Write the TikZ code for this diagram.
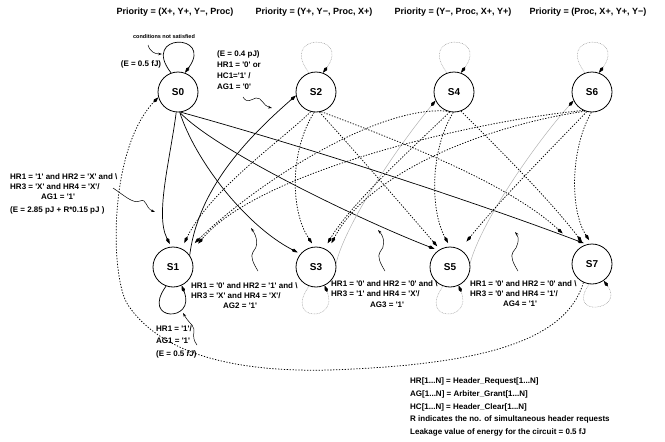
\documentclass[tikz,border=0pt]{standalone}
\usepackage{fontspec}
\setmainfont{Liberation Sans}
\usetikzlibrary{arrows.meta}
\newcommand{\q}{\textquotesingle}
\newcommand{\bs}{\textbackslash}
\begin{document}
\begin{tikzpicture}[x=1pt,y=-1pt,
  state/.style={circle,draw,line width=0.8pt,minimum size=40pt,inner sep=0pt,font=\bfseries\fontsize{10}{12}\selectfont},
  kitetip/.style={-{Kite[length=7pt,width=3.4pt,inset=2.4pt,color=black]}},
  sol/.style={line width=0.7pt,kitetip},
  dot/.style={line width=0.75pt,dash pattern=on 1.3pt off 1.5pt,kitetip},
  gdot/.style={draw=gray!70,line width=0.5pt,dash pattern=on 0.8pt off 0.8pt,kitetip},
  gline/.style={draw=gray!60,line width=0.5pt,kitetip},
  lab/.style={font=\bfseries\fontsize{8}{9}\selectfont,inner sep=0pt,anchor=base west},
  labc/.style={lab,anchor=base},
  pri/.style={font=\bfseries\fontsize{9}{10}\selectfont,inner sep=0pt},
  squiga/.style={line width=0.5pt,-{Stealth[length=4pt,width=2.6pt]}},
  bigdot/.style={line width=0.75pt,dash pattern=on 1.3pt off 1.6pt,-{Kite[length=7pt,width=3.4pt,inset=2.4pt]}},
]
\useasboundingbox (0,0) rectangle (665,442);

% states
\node[state] (S0) at (178,92) {S0};
\node[state] (S2) at (316,92) {S2};
\node[state] (S4) at (454,92) {S4};
\node[state] (S6) at (592,92) {S6};
\node[state] (S1) at (173,267) {S1};
\node[state] (S3) at (316,267) {S3};
\node[state] (S5) at (450,267) {S5};
\node[state] (S7) at (592,264) {S7};

% priorities
\node[pri] (P0) at (175,12) {Priority = (X+, Y+, Y−, Proc)};
\node[pri] (P2) at (314,12) {Priority = (Y+, Y−, Proc, X+)};
\node[pri] (P4) at (453,12) {Priority = (Y−, Proc, X+, Y+)};
\node[pri] (P6) at (588,12) {Priority = (Proc, X+, Y+, Y−)};

% self loops
\draw[sol] (S0.110) .. controls +(-31,-40) and +(29,-40) .. (S0.70);
\draw[gdot] (S2.110) .. controls +(-31,-40) and +(29,-40) .. (S2.70);
\draw[gdot] (S4.110) .. controls +(-31,-40) and +(29,-40) .. (S4.70);
\draw[gdot] (S6.110) .. controls +(-31,-40) and +(29,-40) .. (S6.70);
\draw[sol] (S1.250) .. controls +(-26,36) and +(15,37) .. (S1.295);
\draw[gdot] (S3.250) .. controls +(-26,36) and +(15,37) .. (S3.295);
\draw[gdot] (S5.250) .. controls +(-26,36) and +(15,37) .. (S5.295);
\draw[gdot] (S7.262) .. controls +(-24,34) and +(22,30) .. (S7.305);

% solid transitions from S0
\draw[sol,shorten >=3pt] (S0.265) .. controls (170,160) and (155,215) .. (S1.95);
\draw[sol,shorten >=3pt] (S0.275) .. controls (195,160) and (245,225) .. (S3.140);
\draw[sol,shorten >=4pt] (S0.275) .. controls (215,150) and (360,220) .. (S5.125);
\draw[sol,shorten >=3pt] (S0.278) .. controls (300,145) and (470,200) .. (S7.105);

% odd -> even
\draw[sol] (S1.35) .. controls (198,190) and (245,140) .. (S2.190);
\draw[gline] (S3.10) .. controls (345,225) and (395,150) .. (S4.205);
\draw[gline] (S5.10) .. controls (480,225) and (530,150) .. (S6.205);

% dotted from S2
\draw[dot,shorten >=6pt] (S2.255) .. controls (282,140) and (210,190) .. (S1.65);
\draw[dot,shorten >=4pt] (S2.265) .. controls (290,150) and (290,210) .. (S3.95);
\draw[dot,shorten >=4pt] (S2.280) .. controls (360,157) and (400,203) .. (S5.120);
\draw[dot,shorten >=22pt] (S2.285) .. controls (410,145) and (510,185) .. (S7.130);

% dotted from S4
\draw[dot,shorten >=12pt] (S4.250) .. controls (380,105) and (260,180) .. (S1.50);
\draw[dot,shorten >=6pt] (S4.258) .. controls (410,150) and (350,205) .. (S3.65);
\draw[dot,shorten >=4pt] (S4.268) .. controls (430,150) and (430,210) .. (S5.90);
\draw[dot,shorten >=4pt] (S4.290) .. controls (500,150) and (550,200) .. (S7.112);

% dotted from S6
\draw[dot,shorten >=14pt] (S6.245) .. controls (480,120) and (260,170) .. (S1.38);
\draw[dot,shorten >=8pt] (S6.250) .. controls (490,125) and (370,170) .. (S3.55);
\draw[dot,shorten >=10pt] (S6.255) .. controls (550,150) and (500,200) .. (S5.60);
\draw[dot,shorten >=4pt] (S6.268) .. controls (570,150) and (570,210) .. (S7.92);

% big return S7 -> S0
\draw[bigdot] (S7.245) .. controls (565,345) and (470,365) .. (330,370)
  .. controls (250,372) and (165,360) .. (128,305)
  .. controls (110,278) and (108,150) .. (S0.195);

% labels
\node[font=\bfseries\fontsize{5.5}{6}\selectfont,inner sep=0pt,anchor=base] (cns) at (164,38) {conditions not satisfied};
\node[labc] (e0) at (141,66) {(E = 0.5 fJ)};
\node[lab] (t1a) at (217,56) {(E = 0.4 pJ)};
\node[lab] (t1b) at (217,67) {HR1 = \q0\q{} or};
\node[lab] (t1c) at (217,78) {HC1=\q1\q{} /};
\node[lab] (t1d) at (217,89) {AG1 = \q0\q};

\node[lab] (a1) at (10,179) {HR1 = \q1\q{} and HR2 = \q X\q{} and \bs};
\node[lab] (a2) at (10,189) {HR3 = \q X\q{} and HR4 = \q X\q/};
\node[lab] (a3) at (41,199) {AG1 = \q1\q};
\node[lab] (a4) at (10,212) {(E = 2.85 pJ + R*0.15 pJ )};

\node[lab] (b1) at (191,288) {HR1 = \q0\q{} and HR2 = \q1\q{} and \bs};
\node[lab] (b2) at (191,298) {HR3 = \q X\q{} and HR4 = \q X\q/};
\node[lab] (b3) at (223,308) {AG2 = \q1\q};

\node[lab] (c1) at (331,286) {HR1 = \q0\q{} and HR2 = \q0\q{} and \bs};
\node[lab] (c2) at (331,296) {HR3 = \q1\q{} and HR4 = \q X\q/};
\node[lab] (c3) at (370,307) {AG3 = \q1\q};

\node[lab] (d1) at (470,286) {HR1 = \q0\q{} and HR2 = \q0\q{} and \bs};
\node[lab] (d2) at (470,296) {HR3 = \q0\q{} and HR4 = \q1\q/};
\node[lab] (d3) at (503,306) {AG4 = \q1\q};

\node[lab] (f1) at (156,331) {HR1 = \q1\q/};
\node[lab] (f2) at (156,343) {AG1 = \q1\q};
\node[lab] (f3) at (156,356) {(E = 0.5 \textit{fJ})};

\node[lab] (g1) at (410,383) {HR[1...N] = Header\_Request[1...N]};
\node[lab] (g2) at (410,396) {AG[1...N] = Arbiter\_Grant[1...N]};
\node[lab] (g3) at (410,409) {HC[1...N] = Header\_Clear[1...N]};
\node[lab] (g4) at (410,421) {R indicates the no. of simultaneous header requests};
\node[lab] (g5) at (410,434) {Leakage value of energy for the circuit = 0.5 fJ};

% squiggles
\coordinate (q1s) at (148,45);
\coordinate (q1e) at (162,54);
\draw[squiga] (q1s) .. controls (150,52) and (155,54) .. (q1e);
\coordinate (q2s) at (243,97);
\coordinate (q2e) at (272,108);
\draw[squiga] (q2s) .. controls (247,104) and (252,99) .. (256,98) .. controls (262,97) and (263,106) .. (q2e);
\coordinate (q3s) at (113,188);
\coordinate (q3e) at (155,212);
\draw[squiga] (q3s) .. controls (125,196) and (133,204) .. (140,201) .. controls (147,198) and (145,208) .. (q3e);
\coordinate (q4s) at (258,271);
\coordinate (q4e) at (251,228);
\draw[squiga] (q4s) .. controls (253,263) and (250,256) .. (253,252) .. controls (258,247) and (258,238) .. (q4e);
\coordinate (q5s) at (385,271);
\coordinate (q5e) at (378,230);
\draw[squiga] (q5s) .. controls (380,263) and (377,256) .. (380,252) .. controls (385,247) and (385,238) .. (q5e);
\coordinate (q6s) at (518,271);
\coordinate (q6e) at (515,232);
\draw[squiga] (q6s) .. controls (513,263) and (510,256) .. (513,252) .. controls (518,247) and (520,238) .. (q6e);
\coordinate (q7s) at (197,345);
\coordinate (q7e) at (183,313);
\draw[squiga] (q7s) .. controls (190,336) and (197,330) .. (192,325) .. controls (188,321) and (186,318) .. (q7e);

\end{tikzpicture}
\end{document}
